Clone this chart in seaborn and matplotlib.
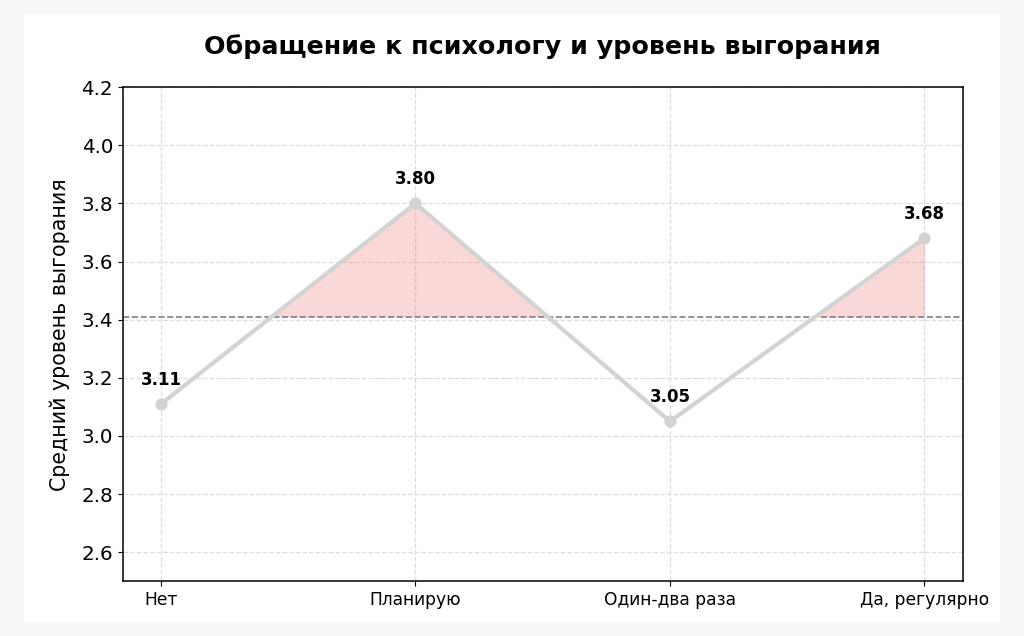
import numpy as np
import pandas as pd
import seaborn as sns
import matplotlib.pyplot as plt
from matplotlib.patches import Rectangle

categories = ['Нет', 'Планирую', 'Один-два раза', 'Да, регулярно']
burnout = [3.11, 3.80, 3.05, 3.68]

df = pd.DataFrame({'pos': np.arange(len(categories)), 'burnout': burnout})
mean_val = np.mean(burnout)

sns.set_style('ticks')
plt.rcParams['font.family'] = ['DejaVu Sans']
plt.rcParams['text.color'] = 'black'
plt.rcParams['axes.labelcolor'] = 'black'
plt.rcParams['xtick.color'] = 'black'
plt.rcParams['ytick.color'] = 'black'

fig, ax = plt.subplots(figsize=(10.24, 6.36), dpi=100)
fig.patch.set_facecolor('#f7f7f7')
fig.patches.append(Rectangle((0.023, 0.022), 0.954, 0.956, transform=fig.transFigure,
                             facecolor='white', edgecolor='none', zorder=-1))
ax.set_facecolor('white')
fig.subplots_adjust(left=0.12, right=0.94, top=0.863, bottom=0.086)

ax.grid(True, linestyle='--', color='#dddddd', linewidth=0.9)
ax.set_axisbelow(True)

ax.fill_between(df['pos'], df['burnout'], mean_val, where=df['burnout'] >= mean_val,
                interpolate=True, color='lightcoral', alpha=0.3, linewidth=0.6)
sns.lineplot(data=df, x='pos', y='burnout', ax=ax, color='#d3d3d3', linewidth=3,
             marker='o', markersize=8, markeredgecolor='#d3d3d3', zorder=3)
ax.axhline(mean_val, color='gray', linestyle='--', linewidth=1.2, zorder=2)

for x, y in zip(df['pos'], df['burnout']):
    ax.annotate(f'{y:.2f}', (x, y), xytext=(0, 11), textcoords='offset points',
                ha='center', va='bottom', fontsize=12, fontweight='bold')

ax.set_xlim(-0.15, 3.15)
ax.set_ylim(2.5, 4.2)
ax.set_yticks(np.arange(2.6, 4.21, 0.2))
ax.set_xticks(df['pos'])
ax.set_xticklabels(categories, fontsize=12.3)
ax.tick_params(axis='y', labelsize=14.3)
ax.set_xlabel('')
ax.set_ylabel('Средний уровень выгорания', fontsize=14.8, labelpad=8)
ax.set_title('Обращение к психологу и уровень выгорания', fontsize=18.3,
             fontweight='bold', pad=24)
for s in ax.spines.values():
    s.set_visible(True)
    s.set_color('black')
    s.set_linewidth(1.1)

fig.savefig('out.png', dpi=100, facecolor=fig.get_facecolor())
